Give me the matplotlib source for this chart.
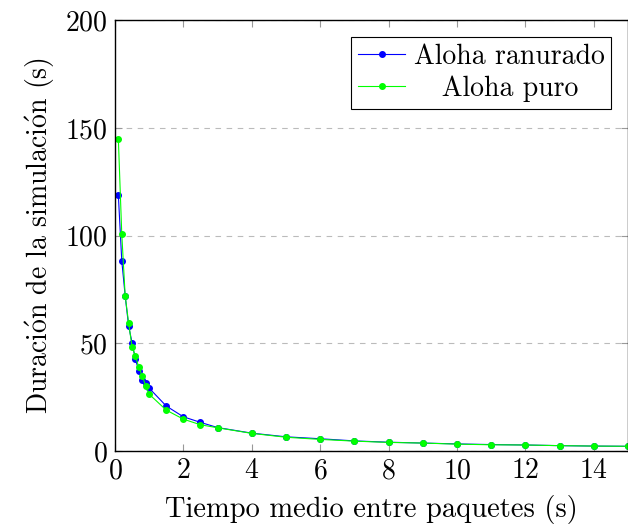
import matplotlib
matplotlib.use('Agg')
import matplotlib.pyplot as plt
import numpy as np

x_vals = [0.1, 0.2, 0.3, 0.4, 0.5, 0.6, 0.7, 0.8, 0.9, 1.0, 1.5, 2, 2.5, 3,
          4, 5, 6, 7, 8, 9, 10, 11, 12, 13, 14, 15]
ranurado = [118.8, 88.3, 72.0, 58.1, 50.3, 42.5, 37.3, 33.0, 31.7, 29.2, 20.9, 15.9, 13.3, 10.9,
            8.3, 6.6, 5.7, 4.7, 4.1, 3.7, 3.3, 3.0, 2.8, 2.5, 2.3, 2.2]
puro = [145.0, 100.7, 72.0, 59.5, 48.4, 44.0, 38.8, 34.8, 30.3, 26.4, 19.0, 14.8, 12.2, 10.8,
        8.2, 6.4, 5.4, 4.6, 4.0, 3.7, 3.2, 2.9, 2.8, 2.5, 2.3, 2.2]
labels = ["Aloha ranurado", "   Aloha puro"]

plt.rcParams['font.family'] = ['cmr10', 'DejaVu Serif']
plt.rcParams['mathtext.fontset'] = 'cm'
plt.rcParams['axes.formatter.use_mathtext'] = True

fig, ax = plt.subplots(figsize=(6.28, 5.3), dpi=100)
fig.subplots_adjust(left=0.183, right=1.0, top=0.962, bottom=0.149)

ax.plot(x_vals, ranurado, color=(0, 0, 1), marker='o', markersize=4, linewidth=0.8, label=labels[0])
ax.plot(x_vals, puro, color=(0, 1, 0), marker='o', markersize=4, linewidth=0.8, label=labels[1])

ax.set_xlim(0, 15)
ax.set_ylim(0, 200)
ax.set_xticks(np.arange(0, 15, 2))
ax.set_yticks(np.arange(0, 201, 50))
ax.yaxis.grid(True, linestyle=(0, (5, 5)), color='#bbbbbb', linewidth=0.8)
ax.tick_params(direction='in', length=5, color='#999999', labelsize=20, pad=5,
               top=True, right=True)
for s in ax.spines.values():
    s.set_linewidth(1.0)

ax.set_xlabel("Tiempo medio entre paquetes (s)", fontsize=20.5, labelpad=8)
ax.set_ylabel(r"Duraci$\acute{\mathrm{o}}$n de la simulaci$\acute{\mathrm{o}}$n (s)", fontsize=20, labelpad=6)
leg = ax.legend(loc='upper right', fontsize=20, fancybox=False, edgecolor='black',
                framealpha=1, borderaxespad=0.6, handlelength=1.7, handletextpad=0.3,
                borderpad=0.25, labelspacing=0.2)
leg.get_frame().set_linewidth(0.8)

fig.savefig('out.png', dpi=100)
